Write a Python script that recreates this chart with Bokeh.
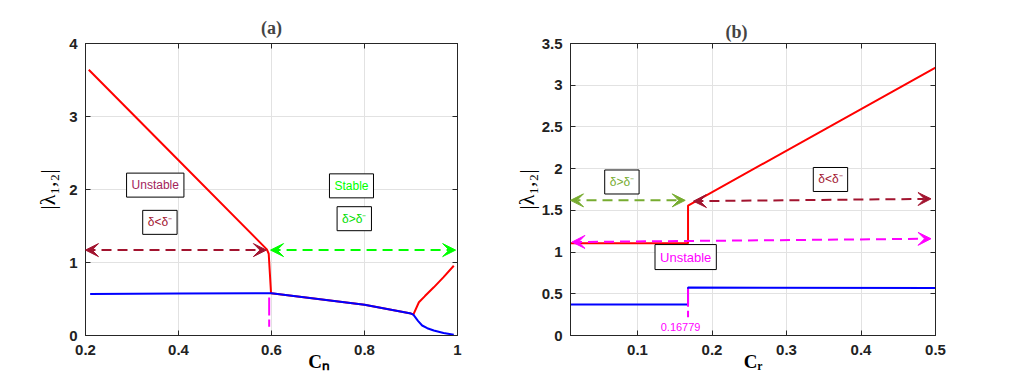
from bokeh.plotting import figure
from bokeh.models import (Label, Arrow, VeeHead, LinearAxis, FixedTicker,
                          CustomJSTickFormatter, Range1d)
from bokeh.layouts import row
from bokeh.embed import file_html
from bokeh.resources import INLINE

# ---------------- data: panel (a) ----------------
a_x_ticks = [0.2, 0.4, 0.6, 0.8, 1.0]
a_y_ticks = [0, 1, 2, 3, 4]
a_red_x = [0.207, 0.40, 0.59, 0.594, 0.599, 0.70, 0.80, 0.90, 0.905, 0.917, 0.93, 0.949, 0.97, 0.992]
a_red_y = [3.64, 2.40, 1.18, 1.12, 0.58, 0.50, 0.42, 0.30, 0.285, 0.455, 0.54, 0.66, 0.80, 0.955]
a_blue_x = [0.21, 0.40, 0.60, 0.70, 0.80, 0.90, 0.905, 0.915, 0.924, 0.935, 0.949, 0.97, 0.992]
a_blue_y = [0.57, 0.575, 0.58, 0.50, 0.42, 0.30, 0.285, 0.20, 0.137, 0.10, 0.068, 0.035, 0.01]
a_crit_x = [0.595, 0.595]
a_crit_y = [0.52, 0.12]

# ---------------- data: panel (b) ----------------
b_x_ticks = [0.1, 0.2, 0.3, 0.4, 0.5]
b_y_ticks = [0, 0.5, 1, 1.5, 2, 2.5, 3, 3.5]
b_crit = 0.16779
b_red_x = [0.01, b_crit, b_crit, 0.5]
b_red_y = [1.105, 1.105, 1.558, 3.21]
b_blue_x = [0.01, b_crit, b_crit, 0.5]
b_blue_y = [0.372, 0.372, 0.575, 0.57]
b_crit_y = [0.56, 0.22]

TICK_FONT = "Liberation Sans"
SERIF = "Liberation Serif"
DARKRED = "#A2142F"
EM = "\u2003"


def make_fig(width, height, xr, yr, xticks, yticks, bl, br, bt, bb, title, title_align,
             title_offset, title_standoff, xlabel, ylabel, ylabel_standoff):
    p = figure(width=width, height=height, x_range=Range1d(*xr), y_range=Range1d(*yr),
               output_backend="svg", toolbar_location=None, title=title,
               min_border_left=bl, min_border_right=br, min_border_top=bt, min_border_bottom=bb)
    p.background_fill_color = "white"
    p.border_fill_color = "white"
    p.outline_line_color = "#262626"
    p.title.text_font = SERIF
    p.title.text_font_style = "bold"
    p.title.text_font_size = "18px"
    p.title.align = title_align
    p.title.offset = title_offset
    p.title.standoff = title_standoff
    bottom = p.below[0]
    left = p.left[0]
    fmt = CustomJSTickFormatter(code="return String(tick);")
    blank = CustomJSTickFormatter(code="return '';")
    bottom.ticker = FixedTicker(ticks=xticks)
    left.ticker = FixedTicker(ticks=yticks)
    bottom.formatter = fmt
    left.formatter = fmt
    top = LinearAxis(ticker=FixedTicker(ticks=xticks), formatter=blank)
    right = LinearAxis(ticker=FixedTicker(ticks=yticks), formatter=blank)
    p.add_layout(top, "above")
    p.add_layout(right, "right")
    for ax in (bottom, left, top, right):
        ax.major_tick_in = 5
        ax.major_tick_out = 0
        ax.minor_tick_line_color = None
        ax.axis_line_color = "#262626"
        ax.major_tick_line_color = "#262626"
        ax.major_label_text_font = TICK_FONT
        ax.major_label_text_font_style = "bold"
        ax.major_label_text_font_size = "15px"
        ax.major_label_text_color = "#222222"
        ax.major_label_standoff = 8
    for ax in (top, right):
        ax.major_label_standoff = 0
        ax.major_label_text_font_size = "1px"
    bottom.major_label_standoff = 9
    bottom.axis_label = xlabel
    bottom.axis_label_text_font = SERIF
    bottom.axis_label_text_font_style = "bold"
    bottom.axis_label_text_font_size = "19px"
    bottom.axis_label_text_color = "black"
    bottom.axis_label_standoff = -7
    left.axis_label = ylabel
    left.axis_label_text_font = SERIF
    left.axis_label_text_font_style = "normal"
    left.axis_label_text_font_size = "22px"
    left.axis_label_text_color = "black"
    left.axis_label_standoff = ylabel_standoff
    p.xgrid.ticker = FixedTicker(ticks=xticks)
    p.ygrid.ticker = FixedTicker(ticks=yticks)
    p.grid.grid_line_color = "#E2E2E2"
    p.grid.grid_line_width = 1
    return p


def box(p, x, y, text, color, size="12px"):
    p.add_layout(Label(x=x, y=y, text=text, text_color=color, text_font=TICK_FONT,
                       text_font_size=size, text_align="center", text_baseline="middle",
                       border_line_color="black", border_line_width=1,
                       background_fill_color="white", padding=5))


def darrow(p, x0, y0, x1, y1, color, dash="10 6"):
    p.add_layout(Arrow(x_start=x0, y_start=y0, x_end=x1, y_end=y1,
                       line_color=color, line_width=2, line_dash=dash,
                       start=VeeHead(size=13, fill_color=color, line_color=color, line_width=1),
                       end=VeeHead(size=13, fill_color=color, line_color=color, line_width=1)))


# ---------------- panel (a) ----------------
pa = make_fig(508, 378, (0.2, 1.0), (0, 4), a_x_ticks, a_y_ticks, 85, 51, 42, 43,
              "(a)", "center", 0, 12, EM * 5 + "Cₙ", "|λ₁,₂|", 6)
pa.line(a_red_x, a_red_y, line_color="#FF0000", line_width=2)
pa.line(a_blue_x, a_blue_y, line_color="#0000FF", line_width=2)
pa.line(a_crit_x, a_crit_y, line_color="#FF00FF", line_width=2, line_dash="18 4")
darrow(pa, 0.2, 1.17, 0.589, 1.17, DARKRED)
darrow(pa, 0.598, 1.17, 0.996, 1.17, "#00FF00")
box(pa, 0.35, 2.06, "Unstable", "#A3235A")
box(pa, 0.36, 1.55, "δ<δ⁻", DARKRED)
box(pa, 0.772, 2.05, "Stable", "#00FF00")
box(pa, 0.778, 1.60, "δ>δ⁻", "#00DD00")

# ---------------- panel (b) ----------------
pb = make_fig(517, 378, (0.01, 0.5), (0, 3.5), b_x_ticks, b_y_ticks, 62, 90, 43, 43,
              "(b)", "left", 155, 4, "Cᵣ", "|λ₁,₂|", 0)
pb.line(b_red_x, b_red_y, line_color="#FF0000", line_width=2)
pb.line(b_blue_x, b_blue_y, line_color="#0000FF", line_width=2)
pb.line([b_crit, b_crit], b_crit_y, line_color="#FF00FF", line_width=2, line_dash="18 4")
darrow(pb, 0.01, 1.62, 0.164, 1.62, "#77AC30")
darrow(pb, 0.175, 1.61, 0.494, 1.638, DARKRED)
darrow(pb, 0.012, 1.12, 0.494, 1.16, "#FF00FF")
box(pb, 0.079, 1.84, "δ>δ⁻", "#77AC30")
box(pb, 0.359, 1.87, "δ<δ⁻", DARKRED)
box(pb, 0.1646, 0.94, "Unstable", "#FF00FF", size="13px")
pb.add_layout(Label(x=b_crit - 0.01, y=0.10, text="0.16779", text_font=TICK_FONT,
                    text_font_size="11px", text_color="#FF00FF",
                    text_align="center", text_baseline="middle"))

layout = row(pa, pb)
open("out.html", "w").write(file_html(layout, INLINE))
